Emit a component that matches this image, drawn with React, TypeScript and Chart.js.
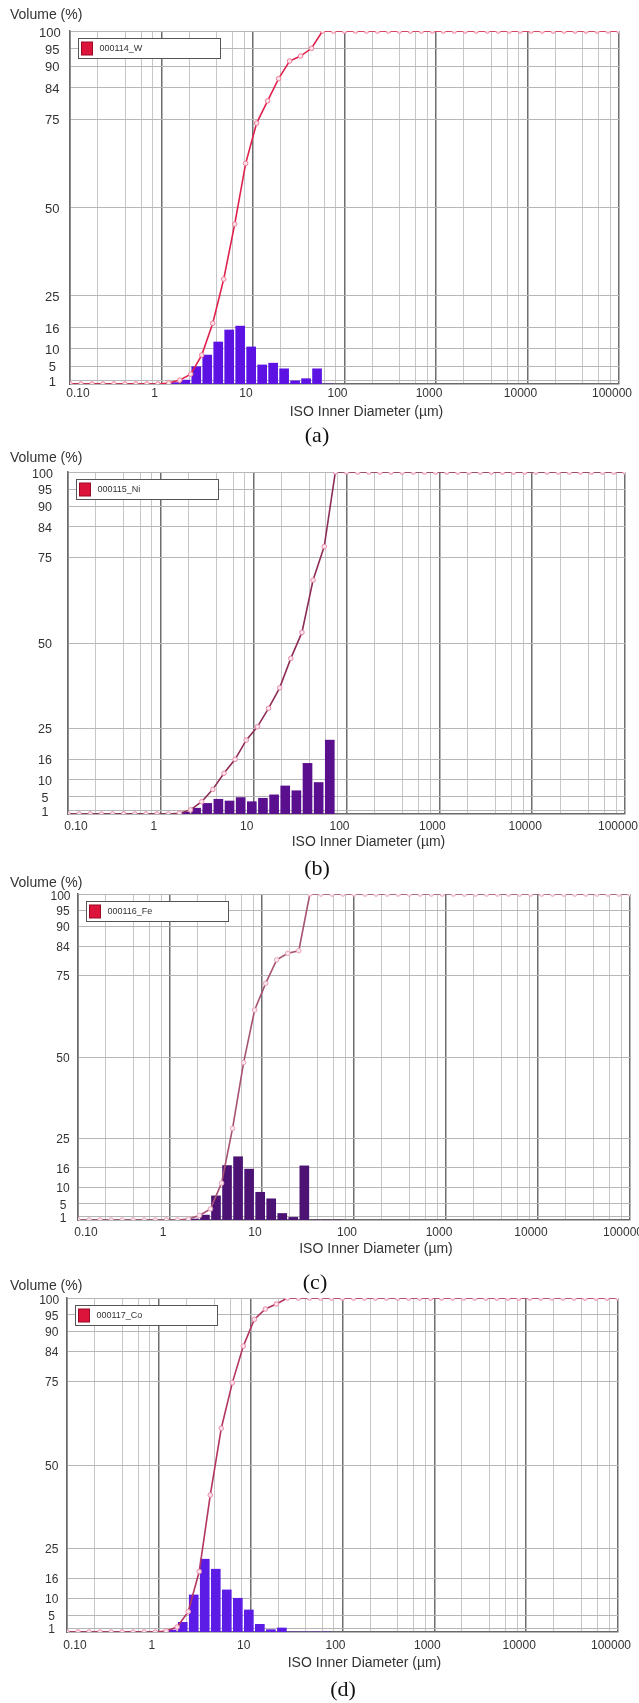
import React, { useEffect, useRef } from 'react';
import { Chart, registerables } from 'chart.js';

Chart.register(...registerables);

// Particle sizes (µm) at which the cumulative volume is reported
const sizes = [
  0.1, 0.1318, 0.1738, 0.2291, 0.302, 0.3981, 0.5248, 0.6918, 0.912, 1.202,
  1.585, 2.089, 2.754, 3.631, 4.786, 6.31, 8.318, 10.96, 14.45, 19.05,
  25.12, 33.11, 43.65, 57.54, 75.86, 100, 131.8, 173.8, 229.1, 302,
  398.1, 524.8, 691.8, 912, 1202, 1585, 2089, 2754, 3631, 4786,
  6310, 8318, 10965, 14454, 19055, 25119, 33113, 43652, 57544, 75858, 100000,
];

// Histogram bin centres (µm)
const binCenters = [1.38, 1.82, 2.399, 3.162, 4.169, 5.495, 7.244, 9.55, 12.59, 16.6, 21.88, 28.84, 38.02, 50.12, 66.07];

// Cumulative volume (%)
const cumW = [
  0, 0, 0, 0, 0, 0, 0, 0, 0, 0.3,
  1.1, 2.8, 8.2, 17.2, 29.7, 45.3, 62.5, 73.9, 80.2, 86.5,
  91.5, 92.9, 95.1, 100, 100, 100, 100, 100, 100, 100,
  100, 100, 100, 100, 100, 100, 100, 100, 100, 100,
  100, 100, 100, 100, 100, 100, 100, 100, 100, 100, 100,
];
const cumNi = [
  0, 0, 0, 0, 0, 0, 0, 0, 0, 0,
  0.2, 1.2, 3.6, 7.2, 11.9, 16.0, 21.6, 25.5, 30.9, 36.9,
  45.5, 53.1, 68.4, 78.2, 100, 100, 100, 100, 100, 100,
  100, 100, 100, 100, 100, 100, 100, 100, 100, 100,
  100, 100, 100, 100, 100, 100, 100, 100, 100, 100, 100,
];
const cumFe = [
  0, 0, 0, 0, 0, 0, 0, 0, 0, 0,
  0.3, 1.4, 3.4, 11.3, 28.1, 48.3, 64.4, 72.6, 79.8, 81.8,
  82.6, 100, 100, 100, 100, 100, 100, 100, 100, 100,
  100, 100, 100, 100, 100, 100, 100, 100, 100, 100,
  100, 100, 100, 100, 100, 100, 100, 100, 100, 100, 100,
];
const cumCo = [
  0, 0, 0, 0, 0, 0, 0, 0, 0, 0.3,
  1.5, 6.1, 18.1, 41.0, 61.0, 74.6, 85.6, 93.6, 96.7, 98.2,
  100, 100, 100, 100, 100, 100, 100, 100, 100, 100,
  100, 100, 100, 100, 100, 100, 100, 100, 100, 100,
  100, 100, 100, 100, 100, 100, 100, 100, 100, 100, 100,
];

// Volume per bin (%)
const barsW = [0.4, 1.1, 4.9, 8.2, 11.9, 15.3, 16.4, 10.5, 5.4, 5.9, 4.3, 0.9, 1.5, 4.3, 0];
const barsNi = [0, 0.5, 1.7, 3.1, 4.3, 3.8, 4.8, 3.6, 4.6, 5.6, 8.2, 6.8, 14.8, 9.2, 21.6];
const barsFe = [0, 0.3, 1.5, 7.4, 16.7, 19.4, 15.6, 8.5, 6.5, 2.0, 0.8, 16.6, 0, 0, 0];
const barsCo = [0.6, 2.9, 11.1, 21.8, 18.8, 12.6, 10.1, 6.6, 2.3, 0.7, 1.2, 0, 0, 0, 0];

// Axes
const yTicks = [1, 5, 10, 16, 25, 50, 75, 84, 90, 95, 100];
const xLabelValues = [0.1, 1, 10, 100, 1000, 10000, 100000];
const xLabels = ['0.10', '1', '10', '100', '1000', '10000', '100000'];
const xGridValues = [
  0.1, 0.2, 0.4, 0.6, 0.8, 1, 2, 4, 6, 8, 10, 20, 40, 60, 80, 100, 200, 400, 600, 800,
  1000, 2000, 4000, 6000, 8000, 10000, 20000, 40000, 60000, 80000, 100000,
];

const SANS = 'Arial, "Liberation Sans", sans-serif';

type Panel = {
  caption: string;
  legend: string;
  cum: number[];
  bars: number[];
  lineColor: string;
  pointBorder: string;
  pointFill: string;
  barColor: string;
  bandTop: number;
  bandH: number;
  left: number;
  right: number;
  top: number;
  bottom: number;
  titleY: number;
  xLabelY: number;
  axisTitleY: number;
  captionX: number;
  captionY: number;
  yLabelOff: number;
  yFont: number;
};

const panels: Panel[] = [
  {
    caption: '(a)', legend: '000114_W', cum: cumW, bars: barsW,
    lineColor: '#e0204c', pointBorder: '#f07a95', pointFill: '#fde4ea', barColor: '#5b12e3',
    bandTop: 0, bandH: 445, left: 70, right: 619, top: 31, bottom: 384,
    titleY: 15, xLabelY: 394, axisTitleY: 412, captionX: 317, captionY: 435, yLabelOff: 17.7, yFont: 13,
  },
  {
    caption: '(b)', legend: '000115_Ni', cum: cumNi, bars: barsNi,
    lineColor: '#8d2d57', pointBorder: '#e58aa8', pointFill: '#fbe4ec', barColor: '#5a0f8e',
    bandTop: 445, bandH: 430, left: 68, right: 625, top: 472, bottom: 814,
    titleY: 458, xLabelY: 827, axisTitleY: 842, captionX: 317, captionY: 868, yLabelOff: 23, yFont: 12.5,
  },
  {
    caption: '(c)', legend: '000116_Fe', cum: cumFe, bars: barsFe,
    lineColor: '#a65374', pointBorder: '#e6a0b8', pointFill: '#fbe8ef', barColor: '#4c1274',
    bandTop: 875, bandH: 395, left: 78, right: 630, top: 894, bottom: 1220,
    titleY: 883, xLabelY: 1233, axisTitleY: 1249, captionX: 315, captionY: 1282, yLabelOff: 15, yFont: 12,
  },
  {
    caption: '(d)', legend: '000117_Co', cum: cumCo, bars: barsCo,
    lineColor: '#b33562', pointBorder: '#ea8aa6', pointFill: '#fce4ec', barColor: '#5d1be6',
    bandTop: 1270, bandH: 433, left: 67, right: 618, top: 1298, bottom: 1632,
    titleY: 1286, xLabelY: 1646, axisTitleY: 1663, captionX: 343, captionY: 1689, yLabelOff: 15.3, yFont: 12,
  },
];

function PanelChart({ p }: { p: Panel }) {
  const ref = useRef<HTMLCanvasElement>(null);
  useEffect(() => {
    const canvas = ref.current;
    if (!canvas) return;
    const textPlugin = {
      id: 'panelText',
      afterDraw(chart: any) {
        const ctx = chart.ctx as CanvasRenderingContext2D;
        const xs = chart.scales.x;
        const ys = chart.scales.y;
        const area = chart.chartArea;
        ctx.save();
        ctx.fillStyle = '#333';
        ctx.textBaseline = 'middle';
        // y title
        ctx.font = `14px ${SANS}`;
        ctx.textAlign = 'left';
        ctx.fillText('Volume (%)', 10, p.titleY - p.bandTop);
        // y tick labels
        ctx.font = `${p.yFont}px ${SANS}`;
        ctx.textAlign = 'center';
        yTicks.forEach((v) => {
          const y = ys.getPixelForValue(v) + (v === 100 ? 2.5 : 1.5);
          const x = area.left - p.yLabelOff - (v === 100 ? 2.5 : 0);
          ctx.fillText(String(v), x, y);
        });
        // x tick labels
        ctx.font = `12px ${SANS}`;
        xLabelValues.forEach((v, i) => {
          const x = xs.getPixelForValue(v) + (i === 0 ? 8 : -7);
          ctx.fillText(xLabels[i], x, p.xLabelY - p.bandTop);
        });
        // x title
        ctx.font = `14px ${SANS}`;
        ctx.fillText('ISO Inner Diameter (µm)', (area.left + area.right) / 2 + 22, p.axisTitleY - p.bandTop);
        // legend box
        const lx = Math.round(area.left + 8) + 0.5;
        const ly = Math.round(area.top + 7) + 0.5;
        ctx.fillStyle = '#ffffff';
        ctx.fillRect(lx, ly, 142, 20);
        ctx.strokeStyle = '#555';
        ctx.lineWidth = 1;
        ctx.strokeRect(lx, ly, 142, 20);
        ctx.fillStyle = '#dc143c';
        ctx.fillRect(lx + 3, ly + 3.5, 11, 13);
        ctx.strokeStyle = '#9a0a25';
        ctx.strokeRect(lx + 3, ly + 3.5, 11, 13);
        ctx.fillStyle = '#333';
        ctx.font = `9px ${SANS}`;
        ctx.textAlign = 'left';
        ctx.fillText(p.legend, lx + 21, ly + 10.5);
        ctx.restore();
      },
    };

    const chart = new Chart(canvas, {
      type: 'line',
      data: {
        datasets: [
          {
            type: 'line',
            label: p.legend,
            data: sizes.map((x, i) => ({ x, y: p.cum[i] })),
            borderColor: p.lineColor,
            borderWidth: 1.6,
            pointRadius: 2.3,
            pointBorderWidth: 1,
            pointBorderColor: p.pointBorder,
            pointBackgroundColor: p.pointFill,
            tension: 0,
            order: 0,
          } as any,
          {
            type: 'bar',
            label: p.legend + ' bins',
            data: binCenters.map((x, i) => ({ x, y: p.bars[i] })),
            backgroundColor: p.barColor,
            borderWidth: 0,
            barThickness: 9,
            order: 1,
          } as any,
        ],
      },
      options: {
        responsive: false,
        devicePixelRatio: 1,
        animation: false,
        events: [],
        layout: {
          padding: {
            left: p.left,
            right: 639 - p.right,
            top: p.top - p.bandTop,
            bottom: p.bandTop + p.bandH - p.bottom,
          },
        },
        plugins: { legend: { display: false }, tooltip: { enabled: false } },
        scales: {
          x: {
            type: 'logarithmic',
            min: 0.1,
            max: 100000,
            offset: false,
            afterBuildTicks: (s: any) => {
              s.ticks = xGridValues.map((v) => ({ value: v }));
            },
            afterFit: (s: any) => {
              s.height = 0;
            },
            ticks: { display: false },
            grid: {
              drawTicks: false,
              offset: false,
              color: (c: any) => (c.tick && xLabelValues.includes(c.tick.value) ? '#6e6e6e' : '#c6c6c6'),
              lineWidth: (c: any) => (c.tick && xLabelValues.includes(c.tick.value) ? 1.5 : 1),
            },
            border: { display: true, color: '#6a6a6a', width: 1.5 },
          },
          y: {
            type: 'linear',
            min: 0,
            max: 100,
            afterBuildTicks: (s: any) => {
              s.ticks = yTicks.map((v) => ({ value: v }));
            },
            afterFit: (s: any) => {
              s.width = 0;
            },
            ticks: { display: false },
            grid: { drawTicks: false, color: '#b6b6b6', lineWidth: 1 },
            border: { display: true, color: '#6a6a6a', width: 1.5 },
          },
        },
      } as any,
      plugins: [textPlugin],
    });
    return () => chart.destroy();
  }, [p]);
  return (
    <canvas
      ref={ref}
      width={639}
      height={p.bandH}
      style={{ position: 'absolute', left: 0, top: p.bandTop, width: 639, height: p.bandH }}
    />
  );
}

export default function App() {
  return (
    <div style={{ position: 'absolute', left: 0, top: 0, width: 639, height: 1703, background: '#fff', overflow: 'hidden' }}>
      {panels.map((p) => (
        <React.Fragment key={p.caption}>
          <PanelChart p={p} />
          <div
            style={{
              position: 'absolute',
              left: p.captionX,
              top: p.captionY,
              transform: 'translate(-50%, -50%)',
              fontFamily: '"Times New Roman", "Liberation Serif", serif',
              fontSize: 22,
              color: '#111',
              lineHeight: 1,
              whiteSpace: 'nowrap',
            }}
          >
            {p.caption}
          </div>
        </React.Fragment>
      ))}
    </div>
  );
}
